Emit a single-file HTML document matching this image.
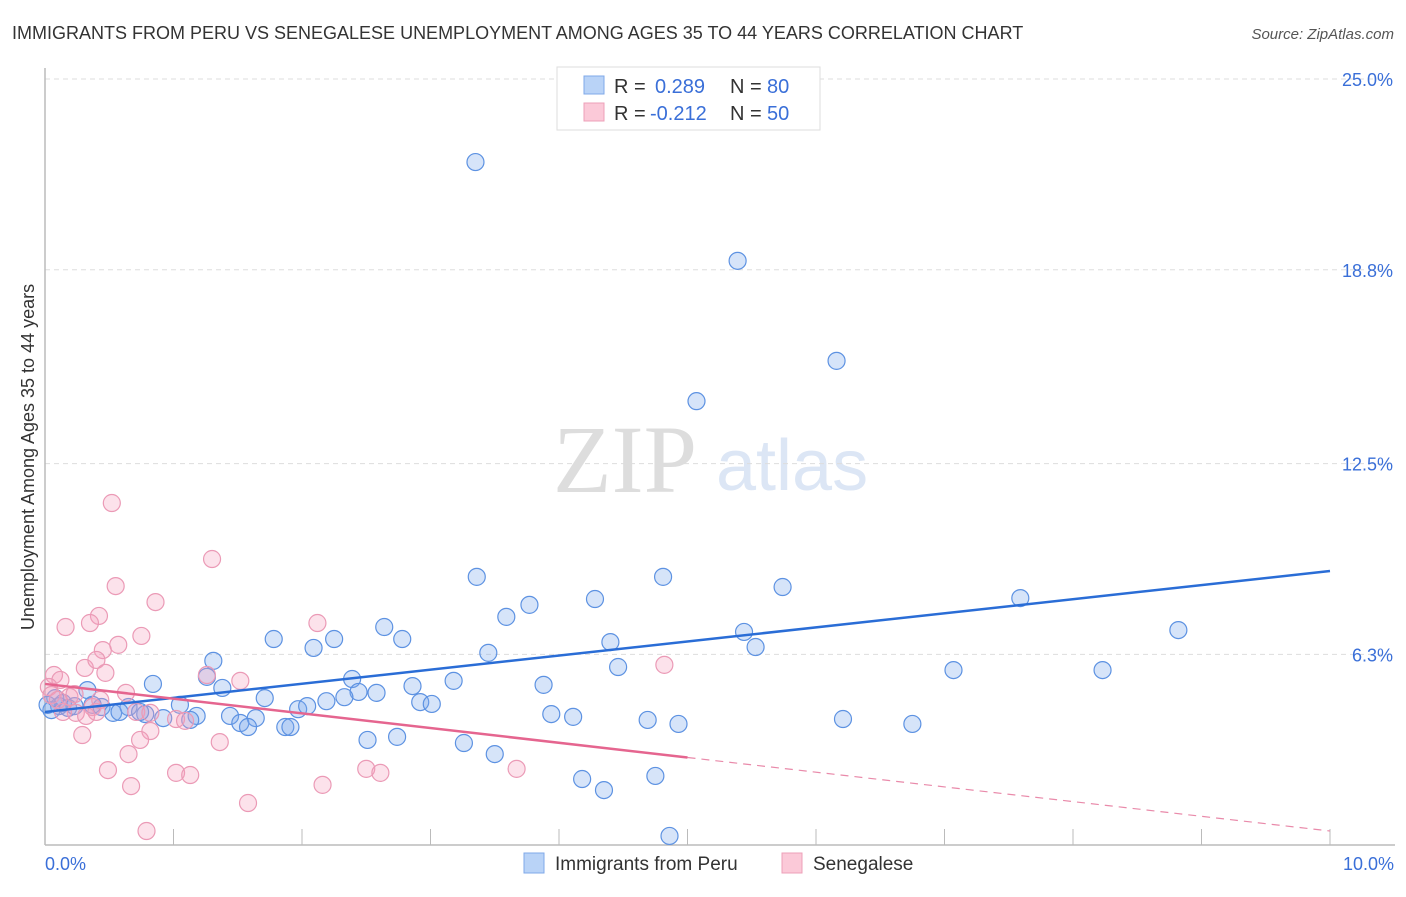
<!DOCTYPE html>
<html><head><meta charset="utf-8"><style>
body{margin:0;background:#fff;font-family:"Liberation Sans",sans-serif;}
svg text{font-family:"Liberation Sans",sans-serif;}
</style></head><body>
<svg id="chart" width="1406" height="892" xmlns="http://www.w3.org/2000/svg">
<text x="12" y="39" font-size="18" fill="#333">IMMIGRANTS FROM PERU VS SENEGALESE UNEMPLOYMENT AMONG AGES 35 TO 44 YEARS CORRELATION CHART</text>
<text x="1394" y="39" font-size="15" fill="#555" text-anchor="end" font-style="italic">Source: ZipAtlas.com</text>
<g>
<text x="553" y="492" font-size="96" fill="#ddd" font-family="Liberation Serif" style="font-family:'Liberation Serif',serif">ZIP</text>
<text x="716" y="490" font-size="72" fill="#dce6f5">atlas</text>
</g>
<g id="grid"></g>
<g id="axes"></g>
<g id="marks"></g>
<text transform="translate(34,457) rotate(-90)" font-size="18" fill="#333" text-anchor="middle">Unemployment Among Ages 35 to 44 years</text>
<g>
<rect x="557" y="67" width="263" height="63" fill="#fff" stroke="#ddd"/>
<rect x="584" y="76" width="20" height="18" fill="#b9d3f7" stroke="#7fa8e8"/>
<rect x="584" y="103" width="20" height="18" fill="#fbc9d8" stroke="#eea0b8"/>
<text x="614" y="93" font-size="20" fill="#333">R = </text><text x="655" y="93" font-size="20" fill="#3a6fd8">0.289</text>
<text x="730" y="93" font-size="20" fill="#333">N = </text><text x="767" y="93" font-size="20" fill="#3a6fd8">80</text>
<text x="614" y="120" font-size="20" fill="#333">R = </text><text x="650" y="120" font-size="20" fill="#3a6fd8">-0.212</text>
<text x="730" y="120" font-size="20" fill="#333">N = </text><text x="767" y="120" font-size="20" fill="#3a6fd8">50</text>
</g>
<g>
<rect x="524" y="853" width="20" height="20" fill="#b9d3f7" stroke="#7fa8e8"/>
<text x="555" y="870" font-size="19" fill="#333">Immigrants from Peru</text>
<rect x="782" y="853" width="20" height="20" fill="#fbc9d8" stroke="#eea0b8"/>
<text x="813" y="870" font-size="19" fill="#333">Senegalese</text>
</g>
</svg>
<script>
const yTicks=[25,18.8,12.5,6.3];
const yTickLabels=["25.0%","18.8%","12.5%","6.3%"];
const xTickLabels=["0.0%","10.0%"];
const peruX=[3.35,5.39,6.16,5.07,3.36,4.81,5.74,4.28,3.77,7.59,3.59,8.82,2.64,1.78,2.25,2.78,5.44,4.40,2.09,3.45,5.53,1.31,4.46,7.07,8.23,2.39,3.18,3.88,0.84,1.26,2.86,2.44,2.58,0.33,1.38,1.71,2.33,2.19,2.92,3.01,1.05,1.97,2.04,0.44,0.65,0.11,0.18,0.05,0.14,0.23,0.53,0.58,0.78,0.92,1.18,1.13,1.44,1.64,1.52,1.58,1.87,1.91,3.94,4.11,4.69,4.93,6.21,6.75,2.51,2.74,3.26,3.50,4.18,4.35,4.75,4.86,0.74,0.37,0.02,0.08];
const peruY=[22.30,19.09,15.84,14.53,8.82,8.82,8.49,8.10,7.91,8.13,7.52,7.09,7.19,6.80,6.80,6.80,7.03,6.70,6.51,6.35,6.54,6.09,5.89,5.79,5.79,5.50,5.44,5.31,5.34,5.57,5.27,5.08,5.05,5.14,5.21,4.88,4.91,4.78,4.75,4.69,4.66,4.52,4.62,4.59,4.59,4.62,4.56,4.49,4.72,4.62,4.40,4.43,4.36,4.23,4.30,4.17,4.30,4.23,4.07,3.94,3.94,3.94,4.36,4.27,4.17,4.04,4.20,4.04,3.52,3.62,3.42,3.06,2.25,1.89,2.35,0.40,4.43,4.66,4.66,4.88];
const senX=[0.52,1.30,0.55,0.86,0.42,0.16,0.35,2.12,0.75,0.57,0.45,0.31,0.40,0.47,0.07,0.12,0.03,1.26,1.52,4.82,0.63,0.05,0.19,0.23,0.37,0.24,0.32,0.71,0.40,0.82,1.02,1.09,0.14,0.29,0.82,0.74,1.36,0.65,0.49,1.02,1.13,2.50,2.61,3.67,0.67,2.16,1.58,0.79,0.10,0.43];
const senY=[11.22,9.40,8.52,8.00,7.55,7.19,7.32,7.32,6.90,6.61,6.44,5.86,6.12,5.70,5.63,5.47,5.24,5.63,5.44,5.96,5.05,4.98,4.92,5.01,4.59,4.40,4.30,4.43,4.43,4.40,4.20,4.14,4.43,3.68,3.81,3.52,3.45,3.06,2.54,2.45,2.38,2.58,2.45,2.58,2.02,2.06,1.47,0.56,4.82,4.82];
const peruTrend=[4.43,9.01];
const senTrend=[5.34,0.56];
const senSolidEnd=5.0;
const NS="http://www.w3.org/2000/svg";
const X0=45,X1=1330;
function xs(v){return X0+(X1-X0)*v/10;}
function ys(v){return 79+(25-v)*30.77;}
function mk(tag,attrs,parent){const e=document.createElementNS(NS,tag);for(const k in attrs)e.setAttribute(k,attrs[k]);parent.appendChild(e);return e;}
const grid=document.getElementById('grid'),axes=document.getElementById('axes'),marks=document.getElementById('marks');
yTicks.forEach((t,i)=>{
 const l=mk('line',{x1:X0,x2:1395,y1:ys(t),y2:ys(t),stroke:'#ddd','stroke-dasharray':'5,4'},grid);
 
 
 const tx=mk('text',{x:1393,y:ys(t)+7,'font-size':18,fill:'#3a6fd8','text-anchor':'end'},axes);
 tx.textContent=yTickLabels[i];
 
 
});
const ax=mk('line',{x1:X0,x2:1395,y1:845,y2:845,stroke:'#bbb','stroke-width':1.5},axes);


const ay=mk('line',{x1:X0,x2:X0,y1:68,y2:845,stroke:'#bbb','stroke-width':1.5},axes);


for(let i=1;i<=10;i++){const t=mk('line',{x1:xs(i),x2:xs(i),y1:829,y2:845,stroke:'#bbb'},axes);
 
 }
[[0,'start',45],[10,'end',1394]].forEach((d,i)=>{const t=mk('text',{x:d[2],y:870,'font-size':18,fill:'#3a6fd8','text-anchor':d[1]},axes);t.textContent=xTickLabels[i];
 
 });
peruX.forEach((x,i)=>{const c=mk('circle',{cx:xs(x),cy:ys(peruY[i]),r:8.5,fill:'rgba(120,165,235,0.3)',stroke:'#5d92e2','stroke-width':1.2},marks);
 
 });
senX.forEach((x,i)=>{const c=mk('circle',{cx:xs(x),cy:ys(senY[i]),r:8.5,fill:'rgba(245,160,190,0.3)',stroke:'#eb9ab6','stroke-width':1.2},marks);
 
 });
const pt=mk('line',{x1:xs(0),y1:ys(peruTrend[0]),x2:xs(10),y2:ys(peruTrend[1]),stroke:'#2a6dd6','stroke-width':2.5},marks);


const sAt=v=>senTrend[0]+(senTrend[1]-senTrend[0])*v/10;
const st=mk('line',{x1:xs(0),y1:ys(senTrend[0]),x2:xs(senSolidEnd),y2:ys(sAt(senSolidEnd)),stroke:'#e5658f','stroke-width':2.5},marks);


const sd=mk('line',{x1:xs(senSolidEnd),y1:ys(sAt(senSolidEnd)),x2:xs(10),y2:ys(senTrend[1]),stroke:'#e98aaa','stroke-width':1.2,'stroke-dasharray':'8,6'},marks);


</script>
</body></html>
